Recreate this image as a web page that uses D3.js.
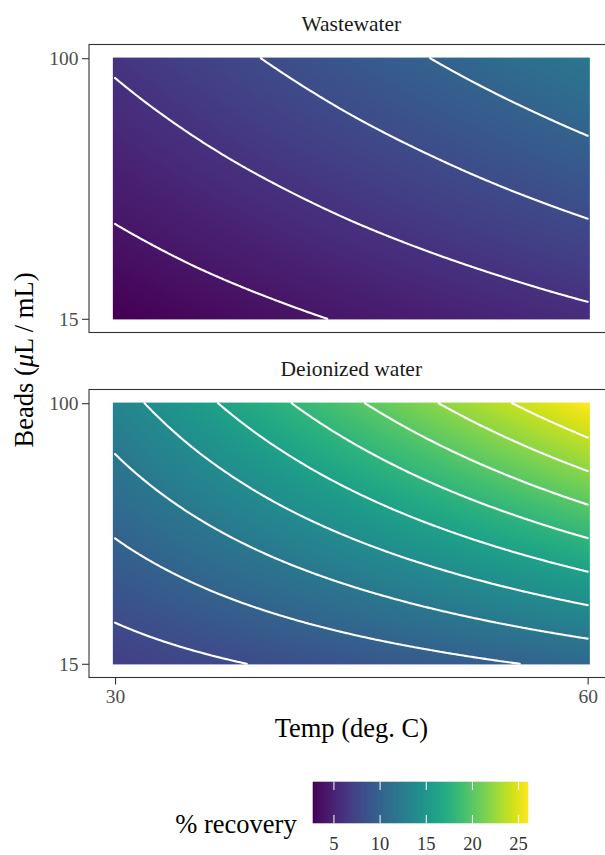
<!DOCTYPE html>
<html><head><meta charset="utf-8">
<script src="https://cdn.jsdelivr.net/npm/d3@7"></script>
<style>body{margin:0;background:#fff} svg{display:block}</style>
</head><body>
<script>
// ---- data ----
const temps = [30, 35, 40, 45, 50, 55, 60];          // Temp (deg. C)
const beads = [15, 32, 49, 66, 83, 100];             // Beads (uL / mL)
const panelNames = ["Wastewater", "Deionized water"];
// % recovery, rows = beads (15 -> 100), columns = temps (30 -> 60)
const wastewater = [
  [2.70, 3.18, 3.66, 4.15, 4.63, 5.11, 5.59],
  [3.41, 3.99, 4.56, 5.13, 5.70, 6.27, 6.85],
  [4.13, 4.79, 5.45, 6.12, 6.78, 7.44, 8.10],
  [4.84, 5.60, 6.35, 7.10, 7.85, 8.61, 9.36],
  [5.56, 6.40, 7.24, 8.09, 8.93, 9.77, 10.61],
  [6.27, 7.20, 8.14, 9.07, 10.00, 10.94, 11.87]
];
const deionized = [
  [7.03, 7.61, 8.19, 8.77, 9.34, 9.92, 10.50],
  [8.26, 9.16, 10.05, 10.94, 11.83, 12.72, 13.61],
  [9.50, 10.70, 11.91, 13.11, 14.31, 15.52, 16.72],
  [10.73, 12.25, 13.77, 15.28, 16.80, 18.31, 19.83],
  [11.97, 13.80, 15.62, 17.45, 19.28, 21.11, 22.94],
  [13.20, 15.34, 17.48, 19.63, 21.77, 23.91, 26.05]
];
const contourLevels = [4, 6, 8, 10, 12, 14, 16, 18, 20, 22, 24];
const xTicks = [30, 60];
const yTicks = [15, 100];
const legendTicks = [5, 10, 15, 20, 25];

// ---- layout ----
const W = 605, H = 855;
const serif = "'Liberation Serif','Times New Roman',serif";
const svg = d3.select("body").append("svg").attr("width", W).attr("height", H);

const panelX0 = 89, panelW = 524.7, panelH = 288;
const panelY0 = [44.5, 389.5];
const halfT = 0.14, halfB = 0.2;
const tLo = temps[0] - halfT, tHi = temps[temps.length - 1] + halfT;
const bLo = beads[0] - halfB, bHi = beads[beads.length - 1] + halfB;
const tPad = (tHi - tLo) * 0.05, bPad = (bHi - bLo) * 0.05;

const x = d3.scaleLinear().domain([tLo - tPad, tHi + tPad]).range([panelX0, panelX0 + panelW]);
const allVals = wastewater.flat().concat(deionized.flat());
const color = d3.scaleSequential(d3.interpolateViridis).domain(d3.extent(allVals));

function clamp(v, a, b) { return Math.max(a, Math.min(b, v)); }
function surface(grid, t, b) {
  t = clamp(t, temps[0], temps[temps.length - 1]);
  b = clamp(b, beads[0], beads[beads.length - 1]);
  const i = clamp(d3.bisectRight(temps, t) - 1, 0, temps.length - 2);
  const j = clamp(d3.bisectRight(beads, b) - 1, 0, beads.length - 2);
  const u = (t - temps[i]) / (temps[i + 1] - temps[i]);
  const v = (b - beads[j]) / (beads[j + 1] - beads[j]);
  return grid[j][i] * (1 - u) * (1 - v) + grid[j][i + 1] * u * (1 - v)
       + grid[j + 1][i] * (1 - u) * v + grid[j + 1][i + 1] * u * v;
}

function isolinePath(grid, k, xs, ys) {
  const nx = 241, ny = 171;
  const tv = d3.range(nx).map(i => temps[0] + (temps[temps.length-1] - temps[0]) * i / (nx - 1));
  const bv = d3.range(ny).map(j => beads[0] + (beads[beads.length-1] - beads[0]) * j / (ny - 1));
  const vals = [];
  for (let j = 0; j < ny; j++) { vals.push([]); for (let i = 0; i < nx; i++) vals[j].push(surface(grid, tv[i], bv[j])); }
  let d = "";
  for (let j = 0; j < ny - 1; j++) {
    for (let i = 0; i < nx - 1; i++) {
      const c = [[i, j], [i + 1, j], [i + 1, j + 1], [i, j + 1]];
      const pts = [];
      for (let e = 0; e < 4; e++) {
        const a = c[e], b = c[(e + 1) % 4];
        const va = vals[a[1]][a[0]], vb = vals[b[1]][b[0]];
        if ((va >= k) !== (vb >= k)) {
          const f = (k - va) / (vb - va);
          const ti = tv[a[0]] + f * (tv[b[0]] - tv[a[0]]);
          const bj = bv[a[1]] + f * (bv[b[1]] - bv[a[1]]);
          pts.push([xs(ti), ys(bj)]);
        }
      }
      for (let p = 0; p + 1 < pts.length; p += 2) {
        d += `M${pts[p][0].toFixed(2)},${pts[p][1].toFixed(2)}L${pts[p+1][0].toFixed(2)},${pts[p+1][1].toFixed(2)}`;
      }
    }
  }
  return d;
}

[wastewater, deionized].forEach((grid, k) => {
  const y0 = panelY0[k];
  const y = d3.scaleLinear().domain([bLo - bPad, bHi + bPad]).range([y0 + panelH, y0]);
  const g = svg.append("g");

  // strip title
  g.append("text").attr("x", panelX0 + panelW / 2).attr("y", y0 - 13.5)
    .attr("text-anchor", "middle").attr("font-family", serif).attr("font-size", 21.5)
    .attr("fill", "#1a1a1a").text(panelNames[k]);

  // raster surface
  const rx0 = x(tLo), rx1 = x(tHi), ry0 = y(bHi), ry1 = y(bLo);
  const cw = Math.round(rx1 - rx0), ch = Math.round(ry1 - ry0);
  const canvas = document.createElement("canvas");
  canvas.width = cw; canvas.height = ch;
  const ctx = canvas.getContext("2d");
  const img = ctx.createImageData(cw, ch);
  for (let py = 0; py < ch; py++) {
    const b = y.invert(ry0 + (py + 0.5) * (ry1 - ry0) / ch);
    for (let px = 0; px < cw; px++) {
      const t = x.invert(rx0 + (px + 0.5) * (rx1 - rx0) / cw);
      const c = d3.rgb(color(surface(grid, t, b)));
      const o = (py * cw + px) * 4;
      img.data[o] = c.r; img.data[o + 1] = c.g; img.data[o + 2] = c.b; img.data[o + 3] = 255;
    }
  }
  ctx.putImageData(img, 0, 0);
  g.append("image").attr("x", rx0).attr("y", ry0).attr("width", rx1 - rx0).attr("height", ry1 - ry0)
    .attr("preserveAspectRatio", "none").attr("href", canvas.toDataURL());

  // contour lines
  const cg = g.append("g");
  contourLevels.forEach(lv => {
    const d = isolinePath(grid, lv, x, y);
    if (d) cg.append("path").attr("d", d).attr("fill", "none").attr("stroke", "#fff")
      .attr("stroke-width", 2.1).attr("stroke-linecap", "round").attr("stroke-linejoin", "round");
  });

  // panel border
  g.append("rect").attr("x", panelX0).attr("y", y0).attr("width", panelW).attr("height", panelH)
    .attr("fill", "none").attr("stroke", "#333").attr("stroke-width", 1.1);

  // y axis
  const yAxis = d3.axisLeft(y).tickValues(yTicks).tickSize(7).tickPadding(3.5).tickFormat(d3.format("d"));
  const ya = g.append("g").attr("transform", `translate(${panelX0},0)`).call(yAxis);
  ya.select(".domain").remove();
  ya.selectAll("line").attr("stroke", "#333").attr("stroke-width", 1.1);
  ya.selectAll("text").attr("font-family", serif).attr("font-size", 19.5).attr("fill", "#4d4d4d");

  // x axis on bottom panel only
  if (k === 1) {
    const xAxis = d3.axisBottom(x).tickValues(xTicks).tickSize(7).tickPadding(5).tickFormat(d3.format("d"));
    const xa = g.append("g").attr("transform", `translate(0,${y0 + panelH})`).call(xAxis);
    xa.select(".domain").remove();
    xa.selectAll("line").attr("stroke", "#333").attr("stroke-width", 1.1);
    xa.selectAll("text").attr("font-family", serif).attr("font-size", 19.5).attr("fill", "#4d4d4d");
  }
});

// axis titles
svg.append("text").attr("x", panelX0 + panelW / 2).attr("y", 736.5).attr("text-anchor", "middle")
  .attr("font-family", serif).attr("font-size", 26.5).attr("fill", "#000").text("Temp (deg. C)");
const yt = svg.append("text").attr("transform", "translate(33,360) rotate(-90)").attr("text-anchor", "middle")
  .attr("font-family", serif).attr("font-size", 26.5).attr("fill", "#000");
yt.append("tspan").text("Beads (");
yt.append("tspan").attr("font-style", "italic").text("\u03bc");
yt.append("tspan").text("L / mL)");

// legend
const lx0 = 312.7, lx1 = 528.3, ly0 = 781.7, ly1 = 823.3;
const lscale = d3.scaleLinear().domain(color.domain()).range([lx0, lx1]);
const defs = svg.append("defs");
const grad = defs.append("linearGradient").attr("id", "cbar").attr("x1", "0%").attr("x2", "100%").attr("y1", "0%").attr("y2", "0%");
d3.range(0, 1.0001, 0.02).forEach(f => {
  grad.append("stop").attr("offset", (f * 100) + "%")
    .attr("stop-color", color(color.domain()[0] + f * (color.domain()[1] - color.domain()[0])));
});
svg.append("rect").attr("x", lx0).attr("y", ly0).attr("width", lx1 - lx0).attr("height", ly1 - ly0).attr("fill", "url(#cbar)");
const tl = (ly1 - ly0) / 5;
legendTicks.forEach(v => {
  const px = lscale(v);
  svg.append("line").attr("x1", px).attr("x2", px).attr("y1", ly0).attr("y2", ly0 + tl).attr("stroke", "#fff").attr("stroke-width", 1);
  svg.append("line").attr("x1", px).attr("x2", px).attr("y1", ly1 - tl).attr("y2", ly1).attr("stroke", "#fff").attr("stroke-width", 1);
  svg.append("text").attr("x", px).attr("y", 850).attr("text-anchor", "middle")
    .attr("font-family", serif).attr("font-size", 18.5).attr("fill", "#333").text(v);
});
svg.append("text").attr("x", 296.7).attr("y", 833).attr("text-anchor", "end")
  .attr("font-family", serif).attr("font-size", 26.5).attr("fill", "#000").text("% recovery");
</script>
</body></html>
